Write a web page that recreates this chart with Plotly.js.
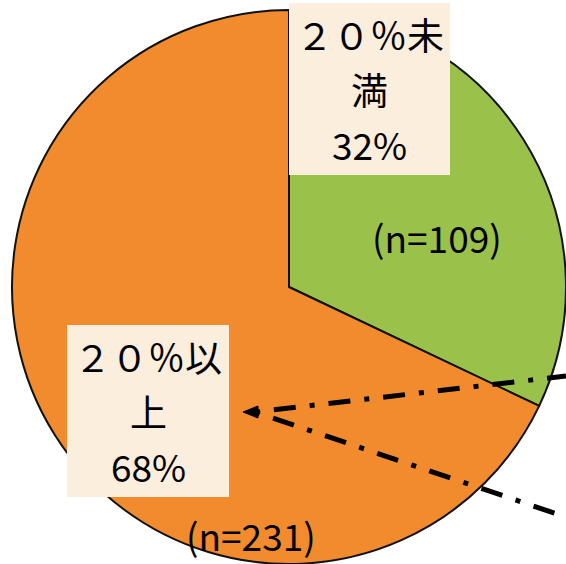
<!DOCTYPE html>
<html>
<head>
<meta charset="utf-8">
<script src="https://cdn.plot.ly/plotly-3.0.1.min.js"></script>
<style>html,body{margin:0;padding:0;background:#fff;}#chart{width:566px;height:564px;}</style>
</head>
<body>
<div id="chart"></div>
<script>
// ---- data ----
const categories = ["２０％未満", "２０％以上"];
const counts = [109, 231];
const sliceColors = ["#9AC24A", "#F18B2D"];

// ---- helpers ----
const W = 566, H = 564;
const px = x => x / W;
const py = y => 1 - y / H;
const total = counts.reduce((a, b) => a + b, 0);
const pcts = counts.map(v => Math.round(v / total * 100));

const font = {family: "Noto Sans CJK JP, Noto Sans, sans-serif", size: 37, color: "#000"};

// label box geometry (layout, not data)
const boxes = [
  {x0: 289, y0: 3, x1: 450, y1: 175},
  {x0: 67, y0: 325, x1: 229, y1: 497}
];
const nPos = [{x: 437, y: 237}, {x: 251, y: 535}];
const lineOffsets = [31, 86, 141];

const shapes = [];
const annotations = [];
categories.forEach((cat, i) => {
  const b = boxes[i];
  shapes.push({type: "rect", xref: "paper", yref: "paper",
    x0: px(b.x0), x1: px(b.x1), y0: py(b.y1), y1: py(b.y0),
    fillcolor: "#FCEEDC", line: {width: 0}, layer: "above"});
  const lines = [cat.slice(0, 4), cat.slice(4), pcts[i] + "%"];
  const cx = (b.x0 + b.x1) / 2;
  lines.forEach((t, k) => {
    annotations.push({xref: "paper", yref: "paper", x: px(cx), y: py(b.y0 + lineOffsets[k]),
      xanchor: "center", yanchor: "middle", text: t, showarrow: false, font: font});
  });
  annotations.push({xref: "paper", yref: "paper", x: px(nPos[i].x), y: py(nPos[i].y),
    xanchor: "center", yanchor: "middle", text: "(n=" + counts[i] + ")", showarrow: false, font: font});
});

// dash-dot leader lines with arrowhead
const head = {x: 247, y: 412};
const ends = [{x: 566, y: 376}, {x: 566, y: 517}];
ends.forEach(e => {
  shapes.push({type: "line", xref: "paper", yref: "paper",
    x0: px(head.x + 8), y0: py(head.y), x1: px(e.x), y1: py(e.y),
    line: {color: "#000", width: 5, dash: "5px,14px,22px,14px"}, layer: "above"});
});
shapes.push({type: "path", xref: "paper", yref: "paper",
  path: `M ${px(243)} ${py(412)} L ${px(258)} ${py(406)} L ${px(258)} ${py(418)} Z`,
  fillcolor: "#000", line: {color: "#000", width: 1}, layer: "above"});

const trace = {
  type: "pie",
  labels: categories,
  values: counts,
  sort: false,
  direction: "clockwise",
  rotation: 0,
  textinfo: "none",
  hoverinfo: "none",
  marker: {colors: sliceColors, line: {color: "#111", width: 2}},
  domain: {x: [12 / W, 1], y: [0, 554 / H]}
};

Plotly.newPlot("chart", [trace], {
  width: W, height: H,
  margin: {l: 0, r: 0, t: 0, b: 0},
  showlegend: false,
  paper_bgcolor: "#fff",
  shapes: shapes,
  annotations: annotations
}, {staticPlot: true});
</script>
</body>
</html>
